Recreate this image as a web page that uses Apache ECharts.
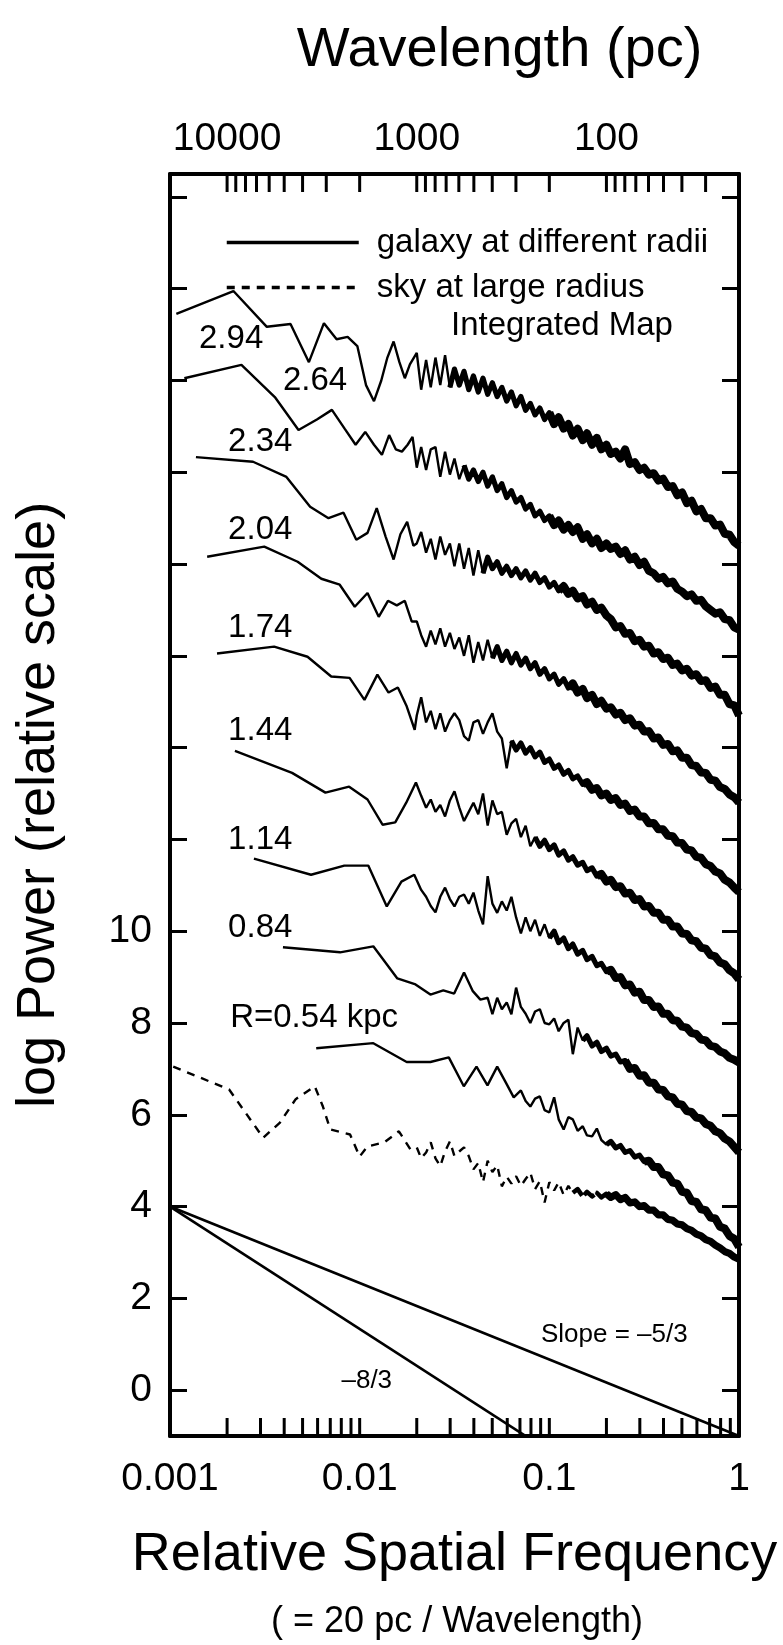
<!DOCTYPE html>
<html lang="en">
<head>
<meta charset="UTF-8">
<title>Power spectra at different radii</title>
<script src="https://cdn.jsdelivr.net/npm/echarts@6/dist/echarts.min.js"></script>
<style>
    *{margin:0;padding:0;}
    html,body{width:783px;height:1645px;background:#fff;overflow:hidden;}
    #chart{width:783px;height:1645px;}
</style>
</head>
<body>
<div id="chart"></div>
<script>
    // shared frequency grid for the dense high-frequency part of the spectra
    var tailF = [0.0200,0.0211,0.0224,0.0237,0.0251,0.0266,0.0282,0.0299,0.0316,0.0335,
        0.0355,0.0376,0.0398,0.0422,0.0447,0.0473,0.0501,0.0531,0.0562,0.0596,
        0.0631,0.0668,0.0708,0.0750,0.0794,0.0841,0.0891,0.0944,0.100,0.106,
        0.112,0.119,0.126,0.133,0.141,0.150,0.158,0.168,0.178,0.188,
        0.200,0.211,0.224,0.237,0.251,0.266,0.282,0.299,0.316,0.335,
        0.355,0.376,0.398,0.422,0.447,0.473,0.501,0.531,0.562,0.596,
        0.631,0.668,0.708,0.750,0.794,0.841,0.891,0.944,1.000];

    // low frequency part: [relative frequency, log power]
    var head294 = [[0.00108,23.45],[0.00216,23.95],[0.00324,23.17],[0.00432,23.23],[0.0054,22.4],[0.00648,23.25],[0.00756,22.9],[0.00864,22.95],[0.00972,22.75],[0.0108,21.9],[0.0119,21.55],[0.013,22.0],[0.014,22.5],[0.0151,22.85],[0.0162,22.4],[0.0173,22.05],[0.0184,22.35]];
    var head264 = [[0.00119,22.05],[0.00238,22.34],[0.00357,21.64],[0.00476,20.92],[0.00595,21.15],[0.00714,21.36],[0.00833,20.95],[0.00952,20.6],[0.0107,20.88],[0.0119,20.6],[0.0131,20.38],[0.0143,20.81],[0.0155,20.5],[0.0167,20.45],[0.0179,20.6],[0.019,20.77]];
    var head234 = [[0.00137,20.33],[0.00274,20.23],[0.00411,19.9],[0.00548,19.25],[0.00685,19.0],[0.00822,19.12],[0.0096,18.53],[0.011,18.68],[0.0123,19.22],[0.0137,18.6],[0.0151,18.1],[0.0164,18.65],[0.0178,18.92],[0.0192,18.4]];
    var head204 = [[0.00157,18.16],[0.00314,18.38],[0.00471,18.05],[0.00628,17.68],[0.00785,17.55],[0.00942,17.07],[0.011,17.37],[0.0126,16.85],[0.0141,17.2],[0.0157,17.1],[0.0173,17.2],[0.0188,16.75]];
    var head174 = [[0.00177,16.05],[0.00354,16.2],[0.00531,15.98],[0.00708,15.55],[0.00885,15.52],[0.0106,15.04],[0.0124,15.59],[0.0142,15.2],[0.0159,15.31],[0.0177,14.9],[0.0195,14.39]];
    var head144 = [[0.0022,13.93],[0.0044,13.45],[0.0066,13.02],[0.0088,13.15],[0.011,12.87],[0.0132,12.32],[0.0154,12.37],[0.0176,12.8],[0.0198,13.24]];
    var head114 = [[0.00277,11.58],[0.00554,11.23],[0.0083,11.43],[0.0111,11.43],[0.0139,10.54],[0.0166,11.08],[0.0194,11.23]];
    var head084 = [[0.00394,9.65],[0.00788,9.54],[0.0118,9.67],[0.0158,8.97],[0.0197,8.84],[0.0236,8.62],[0.0276,8.71],[0.0315,8.64],[0.0355,9.1],[0.0394,8.7],[0.0433,8.51],[0.0473,8.55]];
    var head054 = [[0.0059,7.45],[0.0118,7.56],[0.0177,7.15],[0.0236,7.15],[0.0295,7.25],[0.0354,6.62],[0.0413,7.05],[0.0472,6.64],[0.0531,7.05],[0.059,6.7],[0.0649,6.38],[0.0708,6.53]];
    var headSky = [[0.00104,7.05],[0.00205,6.55],[0.0031,5.5],[0.0038,5.83],[0.0046,6.34],[0.0058,6.62],[0.0064,6.18],[0.007,5.68],[0.0089,5.57],[0.01,5.09],[0.011,5.31],[0.0135,5.4],[0.0161,5.64],[0.0185,5.25]];

    // high frequency part, log power on the last points of tailF
    var tail294 = [22.6,21.8,22.45,21.85,22.5,21.9,22.55,
        21.85,22.25,21.9,22.2,21.8,22.1,21.75,22.05,21.7,21.95,
        21.65,21.85,21.55,21.75,21.45,21.65,21.35,21.5,21.25,21.4,21.15,21.3,
        21.05,21.2,20.95,21.05,20.8,20.95,20.7,20.85,20.6,20.75,20.5,20.6,
        20.4,20.45,20.3,20.5,20.18,20.22,20.05,20.1,19.95,19.98,19.82,19.86,
        19.68,19.7,19.5,19.56,19.33,19.38,19.15,19.2,19.0,19.0,18.84,18.86,18.66,18.64,18.48,18.4];
    var tail264 = [20.1,20.55,20.05,20.5,20.55,19.9,20.45,19.95,20.3,19.85,
        20.15,19.85,20.05,19.8,20.0,19.7,19.9,19.6,19.75,19.45,19.6,19.35,19.45,19.2,19.3,19.05,
        19.15,18.95,19.05,18.85,18.95,18.75,18.85,18.7,18.8,18.55,18.65,18.45,18.55,18.35,18.45,
        18.33,18.38,18.22,18.3,18.1,18.16,17.98,18.05,17.85,17.8,17.68,17.72,17.58,17.62,
        17.46,17.4,17.3,17.34,17.2,17.22,17.08,17.0,16.92,16.95,16.8,16.78,16.62,16.57];
    var tail234 = [18.45,18.7,18.25,18.55,18.1,18.6,18.2,18.45,17.95,18.45,17.9,18.35,17.75,18.3,
        17.8,18.15,17.9,18.05,17.8,17.95,17.75,17.9,17.7,17.85,17.65,17.8,17.6,17.7,
        17.5,17.6,17.42,17.52,17.35,17.42,17.25,17.3,17.12,17.18,17.0,17.05,16.88,
        16.8,16.62,16.65,16.48,16.5,16.32,16.35,16.2,16.22,16.05,16.08,15.93,15.96,15.8,
        15.83,15.68,15.72,15.57,15.6,15.45,15.47,15.3,15.33,15.15,15.15,14.95,14.92,14.7];
    var tail204 = [16.75,16.45,16.2,16.55,16.25,16.6,16.2,16.5,16.15,16.4,16.0,16.45,15.85,16.3,15.9,16.35,
        15.95,16.2,15.9,16.1,15.85,16.05,15.8,15.95,15.72,15.85,15.6,15.72,15.5,15.6,
        15.38,15.5,15.3,15.4,15.2,15.28,15.08,15.15,14.95,15.02,14.85,
        14.88,14.72,14.76,14.6,14.64,14.48,14.5,14.35,14.36,14.2,14.22,14.06,14.08,13.92,
        13.94,13.78,13.78,13.62,13.6,13.46,13.45,13.3,13.28,13.14,13.1,12.98,12.92,12.8];
    var tail174 = [14.7,15.1,14.55,14.8,14.4,14.75,14.35,14.6,14.75,14.6,
        14.25,14.15,14.55,14.6,14.3,14.55,14.75,14.35,14.2,13.55,
        14.15,13.95,14.1,13.88,14.0,13.8,13.9,13.68,13.75,13.55,13.62,13.42,13.5,13.32,
        13.38,13.2,13.25,13.08,13.12,12.96,13.0,
        12.86,12.9,12.75,12.78,12.62,12.65,12.5,12.5,12.35,12.36,12.22,12.22,12.08,12.07,
        11.93,11.92,11.78,11.76,11.62,11.6,11.46,11.42,11.3,11.26,11.12,11.06,10.95,10.85];
    var tail144 = [12.95,12.69,12.87,12.6,12.75,12.5,12.85,13.05,12.7,12.4,
        12.6,12.8,12.55,13.0,12.3,12.85,12.55,12.6,12.1,12.35,12.45,12.05,12.3,11.85,
        12.05,11.85,11.98,11.78,11.88,11.66,11.75,11.55,11.62,11.44,11.5,11.32,11.38,11.2,11.25,11.08,
        11.12,10.96,10.98,10.82,10.84,10.68,10.7,10.54,10.55,10.4,10.4,10.25,10.25,10.1,
        10.1,9.95,9.94,9.8,9.78,9.64,9.62,9.48,9.45,9.32,9.28,9.15,9.08,8.95];
    var tail114 = [10.9,10.75,10.55,10.41,10.75,10.95,10.7,10.54,10.75,10.8,
        10.6,10.84,10.45,10.15,11.2,10.6,10.4,10.65,10.45,10.75,
        10.3,9.95,10.3,10.0,10.25,9.9,10.15,
        9.85,10.0,9.75,9.85,9.62,9.72,9.5,9.58,9.38,9.45,9.25,9.3,9.12,
        9.16,8.98,9.0,8.82,8.84,8.66,8.68,8.5,8.5,8.35,8.36,8.2,8.2,8.06,
        8.05,7.92,7.9,7.78,7.76,7.64,7.62,7.5,7.48,7.38,7.34,7.24,7.2,7.14];
    var tail084 = [8.19,8.55,8.3,8.45,8.19,8.77,8.35,8.2,8.0,8.25,
        8.3,8.0,7.97,8.1,7.82,8.0,8.07,7.32,7.9,
        7.62,7.72,7.5,7.58,7.38,7.45,
        7.28,7.32,7.15,7.18,7.0,7.02,6.85,6.86,6.7,6.7,6.55,6.54,6.4,6.38,
        6.24,6.22,6.08,6.06,5.94,5.92,5.8,5.76,5.64,5.6,5.48,5.42,5.3,5.18];
    var tail054 = [6.3,6.18,6.35,6.4,6.1,6.05,6.38,5.9,5.68,5.95,
        5.9,5.65,5.75,5.55,5.53,5.7,5.45,5.35,
        5.42,5.28,5.33,5.18,5.22,5.08,5.12,4.98,5.0,4.86,4.86,4.7,4.68,4.52,
        4.5,4.32,4.3,4.12,4.1,3.94,3.92,3.76,3.74,3.56,3.52,3.36,3.3,3.12];
    var tailSky = [5.29,5.05,5.18,5.4,5.05,4.88,5.2,5.42,5.1,5.2,
        5.29,5.1,4.81,4.95,4.53,5.0,4.75,4.9,4.44,4.65,
        4.5,4.66,4.45,4.6,4.74,4.38,4.55,4.09,4.53,4.35,4.53,4.25,4.45,
        4.3,4.38,4.22,4.32,4.22,4.3,4.2,4.28,
        4.2,4.26,4.15,4.2,4.08,4.1,4.0,4.02,3.92,3.92,3.82,3.82,3.72,3.7,
        3.62,3.6,3.52,3.48,3.4,3.36,3.28,3.24,3.16,3.1,3.02,2.98,2.9,2.85];

    // reference power laws through (0.001, 4)
    var slope53 = [[0.001,4],[1,-1]];
    var slope83 = [[0.001,4],[1,-4]];

    // curve annotations: [text, frequency, log power]
    var curveLabels = [['2.94',0.0021,22.9],['2.64',0.00582,22.0],['2.34',0.00299,20.66],['2.04',0.00299,18.75],
        ['1.74',0.00299,16.61],['1.44',0.00299,14.37],['1.14',0.00299,12.0],['0.84',0.00299,10.08],['R=0.54 kpc',0.00575,8.12]];
    var slopeLabels = [['Slope = \u20135/3',0.22,1.2],['\u20138/3',0.0109,0.2]];

    // axis ticks
    var yTicks = [0,2,4,6,8,10,12,14,16,18,20,22,24,26];
    var yTickLabels = [0,2,4,6,8,10];
    var freqTicks = [0.002,0.003,0.004,0.005,0.006,0.007,0.008,0.009,0.01,
        0.02,0.03,0.04,0.05,0.06,0.07,0.08,0.09,0.1,
        0.2,0.3,0.4,0.5,0.6,0.7,0.8,0.9];
    var wavelengthTicks = [10000,9000,8000,7000,6000,5000,4000,3000,2000,
        1000,900,800,700,600,500,400,300,200,
        100,90,80,70,60,50,40,30];

    // where each spectrum turns into a dense band, then a heavy band (drawn wider)
    var denseFrom = [0.0299,0.0355,0.0447,0.0501,0.0631,0.0841,0.1,0.15,0.2];
    var heavyFrom = [0.1,0.1,0.112,0.126,0.15,0.178,0.2,0.25,0.3];
    var skyDenseFrom = 0.133, skyHeavyFrom = 0.2;

    var font = 'Liberation Sans, Arial, Helvetica, sans-serif';
    var galaxyName = 'galaxy at different radii';
    var skyName = 'sky at large radius';

    function curve(head, tail) {
        var start = tailF.length - tail.length;
        return head.concat(tail.map(function (v, i) { return [tailF[start + i], v]; }));
    }

    function band(pts, from, width, dash) {
        return {
            name: 'band', type: 'line', silent: true, symbol: 'none',
            data: pts.filter(function (p) { return p[0] >= from; }),
            lineStyle: {color: '#000', width: width, join: 'round', type: dash || 'solid'}
        };
    }

    function tickMark(atTop) {
        return function (params, api) {
            var x = api.coord([api.value(0), 0])[0];
            var cs = params.coordSys;
            var y = atTop ? cs.y : cs.y + cs.height;
            var d = atTop ? 18 : -18;
            return {
                type: 'line',
                shape: {x1: x, y1: y, x2: x, y2: y + d},
                style: {stroke: '#000', lineWidth: 3}
            };
        };
    }

    var galaxies = [[head294,tail294],[head264,tail264],[head234,tail234],[head204,tail204],[head174,tail174],
        [head144,tail144],[head114,tail114],[head084,tail084],[head054,tail054]];

    var series = [];
    galaxies.forEach(function (g, k) {
        var pts = curve(g[0], g[1]);
        series.push({
            name: galaxyName, type: 'line', data: pts,
            symbol: 'none', itemStyle: {color: '#000'},
            lineStyle: {color: '#000', width: 2.4}
        });
        series.push(band(pts, denseFrom[k], 5.2));
        series.push(band(pts, heavyFrom[k], 8));
    });
    var skyPts = curve(headSky, tailSky);
    series.push({
        name: skyName, type: 'line', data: skyPts,
        symbol: 'none', itemStyle: {color: '#000'},
        lineStyle: {color: '#000', width: 2.4, type: [8, 7]}
    });
    series.push(band(skyPts, skyDenseFrom, 4.5, [14, 3]));
    series.push(band(skyPts, skyHeavyFrom, 7.2));
    [slope53, slope83].forEach(function (s) {
        series.push({
            name: 'slope', type: 'line', data: s, symbol: 'none',
            lineStyle: {color: '#000', width: 2.6}
        });
    });
    series.push({
        name: 'labels', type: 'scatter', symbolSize: 0, silent: true,
        itemStyle: {opacity: 1},
        data: curveLabels.map(function (l) { return {name: l[0], value: [l[1], l[2]]}; })
            .concat(slopeLabels.map(function (l) {
                return {name: l[0], value: [l[1], l[2]], label: {fontSize: 26}};
            })),
        label: {show: true, position: 'inside', formatter: '{b}', fontSize: 33, color: '#000', opacity: 1, fontFamily: font}
    });
    series.push({
        name: 'freqTicks', type: 'custom', silent: true,
        data: freqTicks.map(function (f) { return [f, 0]; }),
        renderItem: tickMark(false)
    });
    series.push({
        name: 'wavelengthTicks', type: 'custom', silent: true, xAxisIndex: 1,
        data: wavelengthTicks.map(function (w) { return [w, 0]; }),
        renderItem: tickMark(true)
    });

    var axisLine = {show: true, onZero: false, lineStyle: {color: '#000', width: 4}};

    var myChart = echarts.init(document.getElementById('chart'));
    var option = {
        animation: false,
        backgroundColor: '#fff',
        textStyle: {fontFamily: font, color: '#000'},
        grid: {left: 170, right: 44, top: 174, bottom: 209},
        legend: {
            data: [galaxyName, skyName],
            orient: 'vertical', left: 220, top: 221,
            itemWidth: 132, itemHeight: 14, itemGap: 12,
            selectedMode: false,
            itemStyle: {opacity: 0},
            lineStyle: {width: 3.5},
            textStyle: {fontSize: 33, color: '#000', lineHeight: 33, padding: [0, 0, 0, 13], fontFamily: font}
        },
        xAxis: [{
            type: 'log', logBase: 10, min: 0.001, max: 1, position: 'bottom',
            name: 'Relative Spatial Frequency', nameLocation: 'middle', nameGap: 92,
            nameTextStyle: {fontSize: 54, color: '#000', fontFamily: font},
            axisLine: axisLine,
            axisTick: {show: false},
            axisLabel: {
                fontSize: 39, margin: 24, color: '#000', fontFamily: font,
                formatter: function (v) { return String(+(+v).toPrecision(3)); }
            },
            splitLine: {show: false}
        }, {
            type: 'log', logBase: 10, min: 20, max: 20000, inverse: true, position: 'top',
            name: 'Wavelength (pc)', nameLocation: 'middle', nameGap: 95,
            nameTextStyle: {fontSize: 56, color: '#000', fontFamily: font, padding: [0, 0, 0, 90]},
            axisLine: axisLine,
            axisTick: {show: false},
            axisLabel: {
                fontSize: 39, margin: 15, color: '#000', fontFamily: font, showMinLabel: false, showMaxLabel: false,
                formatter: function (v) { return String(Math.round(v)); }
            },
            splitLine: {show: false}
        }],
        yAxis: [{
            type: 'value', min: -1, max: 26.5, position: 'left',
            name: 'log Power (relative scale)', nameLocation: 'middle', nameGap: 104,
            nameTextStyle: {fontSize: 54, color: '#000', fontFamily: font},
            axisLine: axisLine,
            axisTick: {show: true, inside: true, length: 17, customValues: yTicks, lineStyle: {color: '#000', width: 3}},
            axisLabel: {customValues: yTickLabels, fontSize: 39, margin: 18, color: '#000', fontFamily: font},
            splitLine: {show: false}
        }, {
            type: 'value', min: -1, max: 26.5, position: 'right',
            axisLine: axisLine,
            axisTick: {show: true, inside: true, length: 17, customValues: yTicks, lineStyle: {color: '#000', width: 3}},
            axisLabel: {show: false},
            splitLine: {show: false}
        }],
        graphic: [{
            type: 'text', x: 451, y: 326,
            style: {text: 'Integrated Map', fontSize: 33, fontFamily: font, fill: '#000', align: 'left', verticalAlign: 'middle'}
        }, {
            type: 'text', x: 457, y: 1622,
            style: {text: '( = 20 pc / Wavelength)', fontSize: 36, fontFamily: font, fill: '#000', align: 'center', verticalAlign: 'middle'}
        }],
        series: series
    };
    myChart.setOption(option);
    window.onresize = myChart.resize;
</script>
</body>
</html>
